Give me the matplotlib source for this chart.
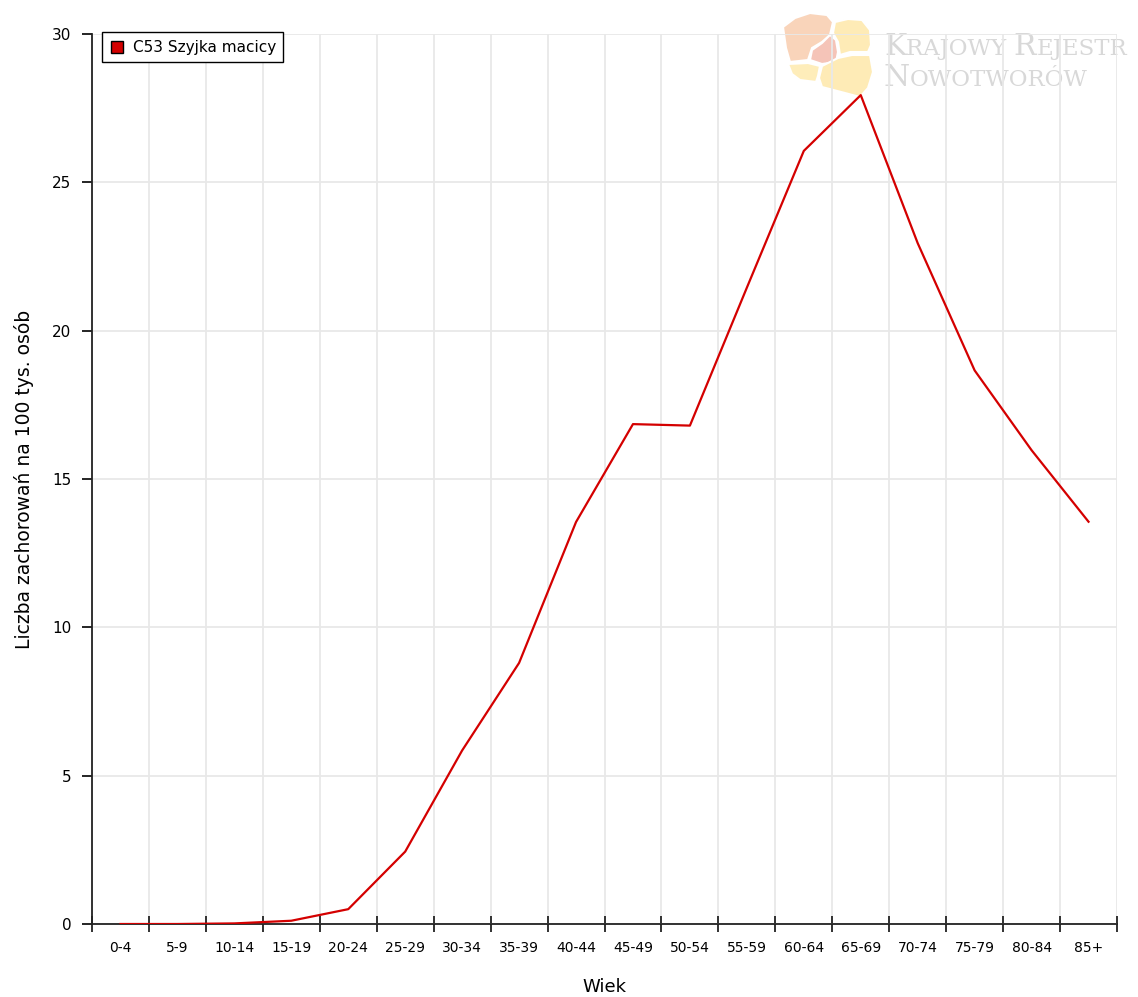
import matplotlib
matplotlib.use("Agg")
import matplotlib.pyplot as plt
from matplotlib.lines import Line2D
from matplotlib.patches import Polygon
from matplotlib.offsetbox import TextArea, HPacker, AnchoredOffsetbox
import numpy as np

# ---- data ----
categories = ["0-4", "5-9", "10-14", "15-19", "20-24", "25-29", "30-34", "35-39",
              "40-44", "45-49", "50-54", "55-59", "60-64", "65-69", "70-74",
              "75-79", "80-84", "85+"]
values = [0.0, 0.0, 0.02, 0.11, 0.5, 2.44, 5.85, 8.8, 13.55, 16.85, 16.8,
          21.45, 26.06, 27.94, 22.95, 18.66, 15.97, 13.56]
series_name = "C53 Szyjka macicy"
y_ticks = [0, 5, 10, 15, 20, 25, 30]
x_label = "Wiek"
y_label = "Liczba zachorowań na 100 tys. osób"

W, H = 1138, 997
fig = plt.figure(figsize=(W / 100, H / 100), dpi=100)
plt.rcParams['font.family'] = ['DejaVu Sans']

def px(x, y):
    return (x / W, 1 - y / H)

left, right, top, bottom = 92, 1117, 34, 924
ax = fig.add_axes([left / W, 1 - bottom / H, (right - left) / W, (bottom - top) / H])
ax.set_zorder(1)
ax.set_facecolor("none")

# ---- watermark logo (behind) ----
logo_polys = [
    ([(783, 27), (795, 18), (810, 13), (827, 15), (833, 22), (830, 35), (822, 42),
      (812, 48), (808, 60), (790, 62), (786, 48)], "#f9d4ba"),
    ([(830, 35), (836, 40), (838, 52), (836, 62), (822, 64), (810, 60), (812, 50), (822, 43)], "#f5c4b8"),
    ([(835, 22), (848, 19), (862, 20), (870, 30), (871, 45), (868, 52), (850, 52),
      (840, 55), (838, 42), (833, 33)], "#feebb6"),
    ([(788, 64), (808, 63), (820, 66), (818, 76), (816, 82), (800, 80), (792, 74)], "#feedba"),
    ([(822, 66), (838, 58), (852, 55), (870, 55), (873, 72), (868, 88), (860, 97),
      (845, 93), (822, 87), (819, 78)], "#feebb6"),
]
for pts, col in logo_polys:
    poly = Polygon([px(x, y) for x, y in pts], closed=True, transform=fig.transFigure,
                   facecolor=col, edgecolor="white", linewidth=1.5, zorder=-1)
    fig.patches.append(poly)

wm_color = "#d8d8d8"
def small_caps(word_parts, big, small):
    boxes = []
    for txt, is_big in word_parts:
        boxes.append(TextArea(txt, textprops=dict(color=wm_color, fontsize=big if is_big else small,
                                                  family="DejaVu Serif")))
    return HPacker(children=boxes, align="baseline", pad=0, sep=0)

line1 = small_caps([("K", True), ("RAJOWY ", False), ("R", True), ("EJESTR", False)], 21.5, 16.5)
line2 = small_caps([("N", True), ("OWOTWORÓW", False)], 21.5, 16.5)
for box, (xp, yp) in [(line1, (884, 54)), (line2, (884, 85))]:
    ab = AnchoredOffsetbox(loc="lower left", child=box, pad=0, borderpad=0, frameon=False,
                           bbox_to_anchor=px(xp, yp + 7), bbox_transform=fig.transFigure)
    ab.set_zorder(-1)
    fig.add_artist(ab)

# ---- plot ----
x = np.arange(len(categories))
ax.plot(x, values, color="#d40000", linewidth=1.6, zorder=3)

ax.set_xlim(-0.5, len(categories) - 0.5)
ax.set_ylim(0, 30)
ax.set_xticks(x)
ax.set_xticklabels(categories, fontsize=10)
ax.set_xticks(np.arange(-0.5, len(categories), 1.0), minor=True)
ax.tick_params(axis="x", which="major", length=0, pad=12)
ax.tick_params(axis="x", which="minor", direction="inout", length=11, width=1.3, color="#222222")
ax.set_yticks(y_ticks)
ax.tick_params(axis="y", which="major", direction="out", length=7, width=1.2, labelsize=11, pad=8)

ax.grid(True, axis="x", which="minor", color="#e8e8e8", linewidth=1.3, zorder=0)
ax.grid(True, axis="y", which="major", color="#e8e8e8", linewidth=1.3, zorder=0)
ax.grid(False, axis="x", which="major")
ax.set_axisbelow(True)

for s in ["top", "right"]:
    ax.spines[s].set_visible(False)
for s in ["left", "bottom"]:
    ax.spines[s].set_color("#222222")
    ax.spines[s].set_linewidth(1.3)

ax.set_xlabel(x_label, fontsize=13, labelpad=17)
ax.set_ylabel(y_label, fontsize=13.5, labelpad=13)

handle = Line2D([], [], linestyle="none", marker="s", markersize=9,
                markerfacecolor="#d40000", markeredgecolor="black", markeredgewidth=1)
leg = ax.legend([handle], [series_name], loc="upper left",
                bbox_to_anchor=(10 / (right - left), 1.002), borderaxespad=0,
                fancybox=False, edgecolor="black", fontsize=11, handletextpad=0.5,
                handlelength=1.0, borderpad=0.5, framealpha=1)
leg.get_frame().set_linewidth(1.0)

fig.savefig("out.png", dpi=100)
